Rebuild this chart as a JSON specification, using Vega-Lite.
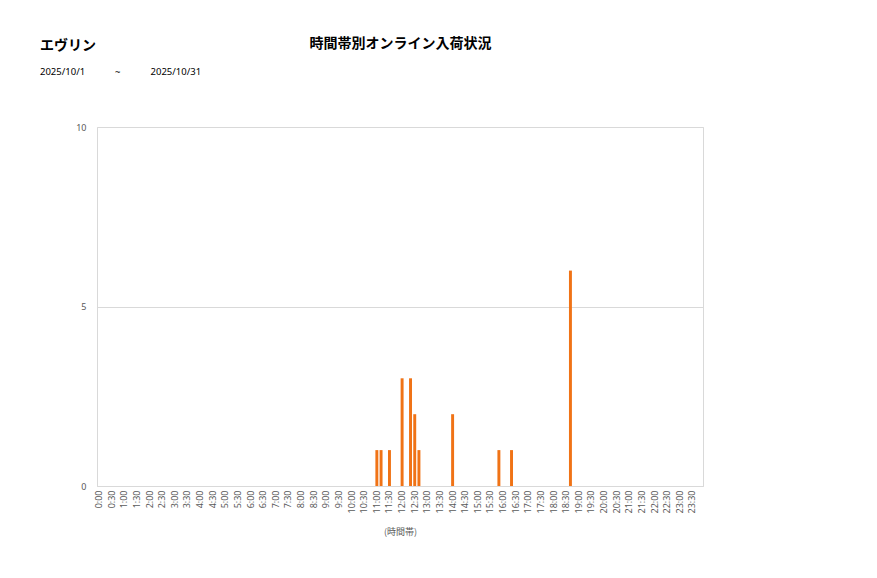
{
  "$schema": "https://vega.github.io/schema/vega-lite/v6.json",
  "autosize": "none",
  "width": 606,
  "height": 359,
  "padding": {"left": 97, "top": 127, "right": 174, "bottom": 92},
  "background": "white",
  "title": {
    "text": "エヴリン",
    "subtitle": "2025/10/1\u3000\u3000\u3000~\u3000\u3000\u30002025/10/31",
    "anchor": "start",
    "frame": "group",
    "dx": -57,
    "offset": -40,
    "font": "Noto Sans CJK JP",
    "fontSize": 14,
    "fontWeight": "bold",
    "color": "black",
    "subtitleFont": "Noto Sans",
    "subtitleFontSize": 9.5,
    "subtitleColor": "black",
    "subtitlePadding": 14
  },
  "config": {
    "view": {"stroke": "#d9d9d9"},
    "axis": {
      "labelFont": "Noto Sans",
      "labelFontSize": 9,
      "labelColor": "#595959",
      "titleFont": "Noto Sans CJK JP",
      "titleFontSize": 9,
      "titleFontWeight": "normal",
      "titleColor": "#595959",
      "ticks": false
    }
  },
  "data": {
    "values": [
      {"time": "11:00", "count": 1},
      {"time": "11:10", "count": 1},
      {"time": "11:30", "count": 1},
      {"time": "12:00", "count": 3},
      {"time": "12:20", "count": 3},
      {"time": "12:30", "count": 2},
      {"time": "12:40", "count": 1},
      {"time": "14:00", "count": 2},
      {"time": "15:50", "count": 1},
      {"time": "16:20", "count": 1},
      {"time": "18:40", "count": 6}
    ]
  },
  "layer": [
    {
      "mark": {"type": "bar", "color": "#f07316"},
      "encoding": {
        "x": {
          "field": "time",
          "type": "ordinal",
          "sort": null,
          "scale": {
            "domain": ["0:00","0:10","0:20","0:30","0:40","0:50","1:00","1:10","1:20","1:30","1:40","1:50","2:00","2:10","2:20","2:30","2:40","2:50","3:00","3:10","3:20","3:30","3:40","3:50","4:00","4:10","4:20","4:30","4:40","4:50","5:00","5:10","5:20","5:30","5:40","5:50","6:00","6:10","6:20","6:30","6:40","6:50","7:00","7:10","7:20","7:30","7:40","7:50","8:00","8:10","8:20","8:30","8:40","8:50","9:00","9:10","9:20","9:30","9:40","9:50","10:00","10:10","10:20","10:30","10:40","10:50","11:00","11:10","11:20","11:30","11:40","11:50","12:00","12:10","12:20","12:30","12:40","12:50","13:00","13:10","13:20","13:30","13:40","13:50","14:00","14:10","14:20","14:30","14:40","14:50","15:00","15:10","15:20","15:30","15:40","15:50","16:00","16:10","16:20","16:30","16:40","16:50","17:00","17:10","17:20","17:30","17:40","17:50","18:00","18:10","18:20","18:30","18:40","18:50","19:00","19:10","19:20","19:30","19:40","19:50","20:00","20:10","20:20","20:30","20:40","20:50","21:00","21:10","21:20","21:30","21:40","21:50","22:00","22:10","22:20","22:30","22:40","22:50","23:00","23:10","23:20","23:30","23:40","23:50"],
            "paddingInner": 0.3,
            "paddingOuter": 0.15
          },
          "axis": {
            "values": ["0:00","0:30","1:00","1:30","2:00","2:30","3:00","3:30","4:00","4:30","5:00","5:30","6:00","6:30","7:00","7:30","8:00","8:30","9:00","9:30","10:00","10:30","11:00","11:30","12:00","12:30","13:00","13:30","14:00","14:30","15:00","15:30","16:00","16:30","17:00","17:30","18:00","18:30","19:00","19:30","20:00","20:30","21:00","21:30","22:00","22:30","23:00","23:30"],
            "labelAngle": -90,
            "labelPadding": 4,
            "domainColor": "#d9d9d9",
            "title": "(時間帯)",
            "titlePadding": 14
          }
        },
        "y": {
          "field": "count",
          "type": "quantitative",
          "scale": {"domain": [0, 10]},
          "axis": {
            "values": [0, 5, 10],
            "title": null,
            "domain": false,
            "gridColor": "#d9d9d9",
            "labelPadding": 11
          }
        }
      }
    },
    {
      "mark": {"type": "bar", "opacity": 0},
      "encoding": {
        "x": {
          "field": "time",
          "type": "ordinal",
          "sort": null,
          "axis": {
            "orient": "top",
            "labels": false,
            "domain": false,
            "grid": false,
            "title": "時間帯別オンライン入荷状況",
            "titleFontSize": 14,
            "titleFontWeight": "bold",
            "titleColor": "black",
            "titlePadding": 77
          }
        },
        "y": {"field": "count", "type": "quantitative"}
      }
    }
  ],
  "resolve": {"axis": {"x": "independent"}}
}
